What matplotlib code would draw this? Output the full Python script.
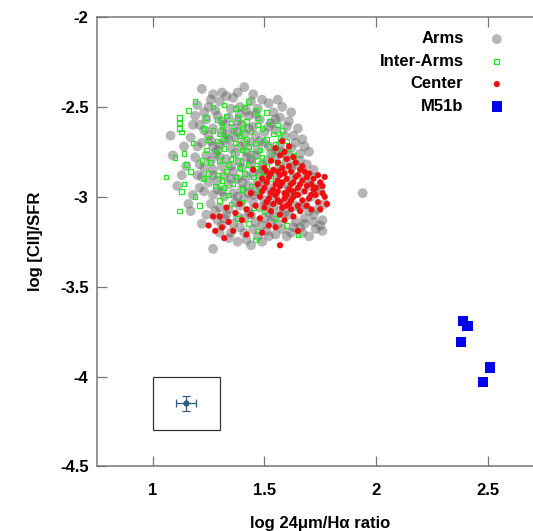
import matplotlib.pyplot as plt
from matplotlib.patches import Rectangle

plt.rcParams['font.family'] = ['Liberation Sans', 'DejaVu Sans']
plt.rcParams['font.weight'] = 'bold'

# Arms regions: log 24um/Halpha vs log [CII]/SFR
arms_x = [1.22, 1.41, 1.27, 1.33, 1.30, 1.36, 1.49, 1.56, 1.52, 1.44, 1.62, 1.58, 1.20, 1.25, 1.39, 1.47, 1.54,
          1.08, 1.09, 1.11, 1.16, 1.17, 1.22, 1.14, 1.15, 1.13, 1.18, 1.19, 1.17, 1.19, 1.21, 1.20, 1.18, 1.24,
          1.27, 1.44, 1.30, 1.34, 1.38, 1.41, 1.47, 1.51, 1.55, 1.58, 1.62, 1.66, 1.70, 1.73, 1.75, 1.76, 1.72,
          1.68, 1.64, 1.77, 1.74, 1.49, 1.53, 1.36, 1.32, 1.29,
          1.65, 1.67, 1.70, 1.64, 1.69, 1.72, 1.61, 1.66, 1.73, 1.71, 1.94,
          1.24, 1.29, 1.34, 1.38, 1.43, 1.48, 1.53, 1.57,
          1.23, 1.27, 1.31, 1.36, 1.41, 1.45, 1.50, 1.55, 1.59,
          1.22, 1.26, 1.30, 1.34, 1.39, 1.44, 1.48, 1.52, 1.57, 1.62,
          1.24, 1.28, 1.33, 1.37, 1.42, 1.46, 1.51, 1.55, 1.60, 1.64,
          1.23, 1.27, 1.31, 1.36, 1.40, 1.45, 1.49, 1.54, 1.58, 1.63, 1.68,
          1.25, 1.29, 1.34, 1.38, 1.43, 1.47, 1.52, 1.57, 1.61, 1.66, 1.70,
          1.27, 1.32, 1.36, 1.41, 1.45, 1.50, 1.55, 1.59, 1.64, 1.68,
          1.30, 1.34, 1.39, 1.43, 1.48, 1.52, 1.57, 1.61,
          1.35, 1.42, 1.28, 1.32, 1.40, 1.46, 1.37, 1.29, 1.35, 1.42, 1.47, 1.53, 1.58, 1.26, 1.39, 1.44,
          1.49, 1.57, 1.32, 1.42, 1.50, 1.29, 1.40, 1.46, 1.53, 1.37, 1.45, 1.54, 1.41, 1.46, 1.50, 1.56,
          1.45, 1.39,
          1.26, 1.31, 1.38, 1.45, 1.23, 1.31, 1.39, 1.46, 1.55, 1.60,
          1.21, 1.25, 1.33, 1.38, 1.43, 1.52, 1.63, 1.68,
          1.20, 1.27, 1.32, 1.41, 1.50, 1.55, 1.60, 1.66,
          1.21, 1.30, 1.35, 1.44, 1.48, 1.62, 1.71,
          1.22, 1.27, 1.35, 1.40, 1.48, 1.60, 1.75,
          1.23, 1.31, 1.38, 1.43, 1.51, 1.62, 1.66, 1.70,
          1.26, 1.28, 1.33, 1.38, 1.44, 1.49, 1.54, 1.59, 1.63, 1.68, 1.72, 1.76,
          1.31, 1.35, 1.42, 1.52, 1.60, 1.67]
arms_y = [-2.40, -2.39, -2.43, -2.44, -2.47, -2.45, -2.46, -2.46, -2.48, -2.47, -2.53, -2.50, -2.49, -2.50, -2.50, -2.51, -2.53,
          -2.66, -2.77, -2.94, -3.04, -3.08, -3.15, -2.72, -2.83, -2.88, -2.60, -2.55, -2.67, -2.78, -2.95, -2.88, -2.99, -3.10,
          -3.29, -3.27, -3.20, -3.23, -3.25, -3.20, -3.22, -3.19, -3.21, -3.18, -3.20, -3.17, -3.22, -3.18, -3.16, -3.13, -3.10,
          -3.12, -3.14, -3.04, -3.07, -3.25, -3.14, -3.15, -3.12, -3.13,
          -2.62, -2.68, -2.75, -2.70, -2.82, -2.85, -2.58, -2.76, -2.95, -3.00, -2.98,
          -2.57, -2.55, -2.56, -2.58, -2.55, -2.57, -2.59, -2.56,
          -2.63, -2.62, -2.64, -2.62, -2.65, -2.61, -2.64, -2.63, -2.66,
          -2.70, -2.69, -2.71, -2.68, -2.72, -2.70, -2.69, -2.72, -2.71, -2.73,
          -2.77, -2.76, -2.79, -2.76, -2.78, -2.77, -2.80, -2.78, -2.80, -2.82,
          -2.84, -2.85, -2.83, -2.86, -2.84, -2.87, -2.85, -2.88, -2.86, -2.89, -2.90,
          -2.92, -2.91, -2.93, -2.90, -2.94, -2.92, -2.95, -2.93, -2.96, -2.97, -2.94,
          -2.99, -3.00, -2.98, -3.01, -2.99, -3.02, -3.00, -3.03, -3.05, -3.04,
          -3.06, -3.07, -3.05, -3.08, -3.06, -3.09, -3.08, -3.10,
          -2.51, -2.52, -2.52, -2.60, -2.60, -2.66, -2.67, -2.74, -2.73, -2.75, -2.74, -2.76, -2.75, -2.80, -2.81, -2.82,
          -2.82, -2.83, -2.88, -2.89, -2.90, -2.96, -2.96, -2.97, -2.98, -3.03, -3.03, -3.05, -3.12, -3.14, -3.12, -3.15,
          -3.18, -3.17,
          -2.46, -2.42, -2.42, -2.43, -2.53, -2.58, -2.54, -2.54, -2.57, -2.61,
          -2.60, -2.66, -2.65, -2.64, -2.62, -2.61, -2.66, -2.72,
          -2.72, -2.72, -2.69, -2.70, -2.70, -2.74, -2.77, -2.80,
          -2.82, -2.78, -2.83, -2.79, -2.87, -2.84, -2.89,
          -2.89, -2.88, -2.90, -2.92, -2.94, -2.93, -2.96,
          -2.97, -2.97, -3.00, -2.98, -3.04, -3.00, -3.06, -3.08,
          -3.04, -3.08, -3.10, -3.11, -3.10, -3.16, -3.11, -3.09, -3.17, -3.15, -3.14, -3.19,
          -3.16, -3.20, -3.24, -3.22, -3.22, -3.20]

# Inter-arm regions
inter_x = [1.06, 1.12, 1.12, 1.12, 1.12, 1.13, 1.19, 1.43, 1.65, 1.46, 1.10, 1.14, 1.15, 1.17, 1.14, 1.13, 1.19,
           1.21, 1.18, 1.22, 1.16,
           1.27, 1.32, 1.37, 1.41, 1.46, 1.51,
           1.24, 1.29, 1.33, 1.38, 1.42, 1.47, 1.52, 1.56,
           1.23, 1.27, 1.31, 1.36, 1.40, 1.44, 1.49, 1.54, 1.58,
           1.25, 1.29, 1.33, 1.37, 1.42, 1.46, 1.51, 1.55, 1.60,
           1.24, 1.28, 1.32, 1.36, 1.40, 1.44, 1.48, 1.53, 1.58, 1.63,
           1.26, 1.30, 1.34, 1.38, 1.43, 1.47, 1.51, 1.56,
           1.25, 1.29, 1.33, 1.37, 1.41, 1.45, 1.49, 1.53,
           1.28, 1.32, 1.36, 1.40, 1.44, 1.48,
           1.30, 1.35, 1.40, 1.45, 1.50, 1.38, 1.43, 1.47, 1.55, 1.60, 1.34, 1.23,
           1.35, 1.30, 1.39, 1.47, 1.43, 1.35, 1.39, 1.31, 1.46, 1.52, 1.57, 1.61, 1.49]
inter_y = [-2.89, -3.08, -2.56, -2.59, -2.62, -2.64, -2.47, -2.47, -3.21, -3.24, -2.78, -2.76, -2.82, -2.86, -2.93, -2.97, -3.00,
           -3.05, -2.70, -2.80, -2.52,
           -2.50, -2.49, -2.51, -2.50, -2.52, -2.53,
           -2.56, -2.57, -2.55, -2.56, -2.58, -2.56, -2.58, -2.60,
           -2.62, -2.63, -2.61, -2.63, -2.62, -2.64, -2.62, -2.65, -2.63,
           -2.68, -2.69, -2.67, -2.70, -2.68, -2.70, -2.68, -2.71, -2.69,
           -2.74, -2.75, -2.73, -2.76, -2.74, -2.76, -2.74, -2.77, -2.75, -2.77,
           -2.81, -2.80, -2.82, -2.80, -2.82, -2.80, -2.83, -2.81,
           -2.87, -2.88, -2.86, -2.89, -2.87, -2.89, -2.88, -2.90,
           -2.94, -2.95, -2.93, -2.96, -2.94, -2.97,
           -3.02, -3.04, -3.03, -3.06, -3.08, -3.12, -3.15, -3.19, -3.12, -3.16, -2.99, -2.90,
           -2.59, -2.65, -2.66, -2.60, -2.72, -2.79, -2.84, -2.91, -2.84, -2.72, -2.67, -2.73, -2.78]

# Central region
center_x = [1.58, 1.55, 1.61, 1.57, 1.53, 1.60, 1.64, 1.50,
            1.54, 1.58, 1.62, 1.66, 1.70, 1.74, 1.77,
            1.49, 1.52, 1.56, 1.60, 1.63, 1.67, 1.71, 1.75,
            1.50, 1.54, 1.57, 1.61, 1.65, 1.68, 1.72, 1.76,
            1.48, 1.52, 1.55, 1.59, 1.63, 1.67, 1.70, 1.74, 1.78,
            1.46, 1.50, 1.54, 1.58, 1.62, 1.66, 1.71,
            1.53, 1.57, 1.61, 1.65, 1.55, 1.59, 1.63, 1.53, 1.57, 1.61, 1.69, 1.73, 1.66,
            1.45, 1.47, 1.44,
            1.25, 1.32, 1.57, 1.65, 1.28, 1.30, 1.34, 1.37, 1.33, 1.40, 1.42, 1.36, 1.31, 1.39, 1.44, 1.48,
            1.52, 1.55, 1.49, 1.42, 1.27, 1.59, 1.63,
            1.51, 1.56, 1.59, 1.64, 1.68, 1.72, 1.76,
            1.51, 1.58, 1.62, 1.69, 1.73,
            1.49, 1.56, 1.60, 1.65, 1.71, 1.77,
            1.51, 1.56, 1.60, 1.65, 1.69, 1.75,
            1.53, 1.57, 1.62, 1.56, 1.63, 1.59, 1.67]
center_y = [-2.69, -2.73, -2.72, -2.77, -2.80, -2.79, -2.81, -2.84,
            -2.85, -2.84, -2.86, -2.85, -2.87, -2.88, -2.89,
            -2.90, -2.89, -2.91, -2.90, -2.92, -2.91, -2.93, -2.92,
            -2.95, -2.96, -2.94, -2.96, -2.95, -2.97, -2.96, -2.98,
            -3.00, -3.01, -2.99, -3.01, -3.00, -3.02, -3.01, -3.03, -3.04,
            -3.05, -3.06, -3.04, -3.06, -3.07, -3.08, -3.07,
            -2.87, -2.88, -2.83, -2.88, -2.93, -2.98, -2.97, -2.98, -3.03, -3.04, -2.89, -2.99, -2.93,
            -2.85, -2.93, -2.98,
            -3.16, -3.23, -3.27, -3.19, -3.19, -3.11, -3.14, -3.09, -3.06, -3.13, -3.07, -3.19, -3.17, -3.04, -3.10, -3.12,
            -3.16, -3.17, -3.20, -3.21, -3.11, -3.13, -3.11,
            -2.86, -2.86, -2.87, -2.89, -2.86, -2.90, -2.94,
            -2.92, -2.92, -2.93, -2.94, -2.95,
            -2.97, -2.97, -2.99, -2.99, -2.99, -3.00,
            -3.03, -3.02, -3.05, -3.05, -3.05, -3.07,
            -3.08, -3.10, -3.02, -2.81, -2.78, -2.75, -2.83]

# M51b companion
m51b_x = [2.39, 2.41, 2.38, 2.51, 2.48]
m51b_y = [-3.69, -3.72, -3.81, -3.95, -4.03]

# typical uncertainty shown in the inset box
err_x, err_y = 1.148, -4.15
err_dx, err_dy = 0.046, 0.044

fig = plt.figure(figsize=(5.33, 5.31), dpi=100)
ax = fig.add_axes([0.1818, 0.1217, 0.838, 0.8463])

ax.scatter(arms_x, arms_y, s=50, color='#5e5e5e', alpha=0.45, edgecolors='none', label='Arms', zorder=2)
ax.scatter(inter_x, inter_y, s=11, facecolors='none', edgecolors='#22e822', linewidths=0.9, marker='s',
           label='Inter-Arms', zorder=3)
ax.scatter(center_x, center_y, s=20, color='#ee1010', edgecolors='none', label='Center', zorder=4)
ax.scatter(m51b_x, m51b_y, s=55, color='#0000ee', marker='s', edgecolors='none', label='M51b', zorder=5)

ax.add_patch(Rectangle((1.0, -4.3), 0.3, 0.3, fill=False, edgecolor='#333333', linewidth=0.9, zorder=3))
ax.errorbar([err_x], [err_y], xerr=[err_dx], yerr=[err_dy], fmt='o', color='#2f5f80', ms=3.5,
            elinewidth=0.9, capsize=3, capthick=0.9, zorder=6)

ax.set_xlim(0.75, 2.75)
ax.set_ylim(-4.5, -2)
ax.set_xticks([1, 1.5, 2, 2.5])
ax.set_xticklabels(['1', '1.5', '2', '2.5'])
ax.set_yticks([-4.5, -4, -3.5, -3, -2.5, -2])
ax.set_yticklabels(['-4.5', '-4', '-3.5', '-3', '-2.5', '-2'])
ax.tick_params(direction='in', length=7, width=0.9, color='#777777', labelsize=12,
               top=True, right=True, pad=12)
ax.tick_params(axis='y', pad=6)
for sp in ax.spines.values():
    sp.set_color('#777777')
    sp.set_linewidth(1.1)

ax.set_xlabel('log 24\u03bcm/H\u03b1 ratio', fontsize=12, fontweight='bold', labelpad=13)
ax.set_ylabel('log [CII]/SFR', fontsize=12, fontweight='bold', labelpad=12)

leg = ax.legend(loc='upper right', bbox_to_anchor=(0.955, 0.99), markerfirst=False, frameon=False,
                fontsize=12, handletextpad=1.0, labelspacing=0.45, borderaxespad=0.2)
for t in leg.get_texts():
    t.set_fontweight('bold')

fig.savefig('out.png', dpi=100)
